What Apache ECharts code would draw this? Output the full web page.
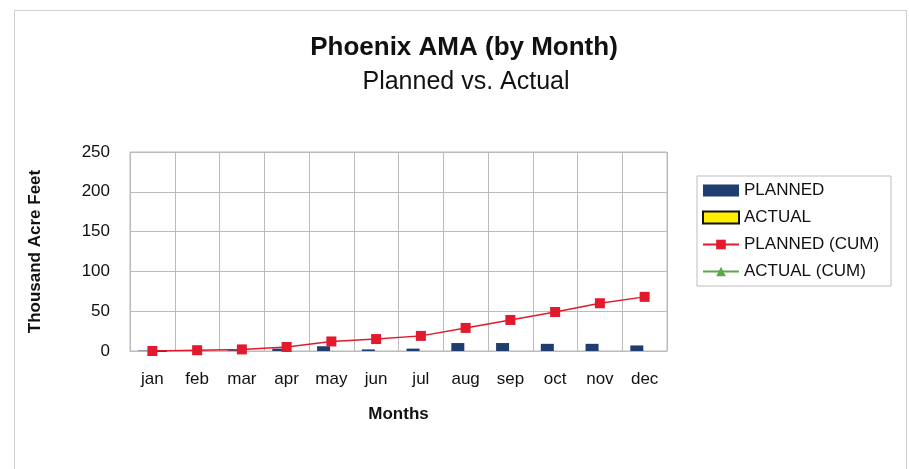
<!DOCTYPE html>
<html>
<head>
<meta charset="utf-8">
<script src="https://cdn.jsdelivr.net/npm/echarts@6/dist/echarts.min.js"></script>
<style>
  html, body { margin: 0; padding: 0; background: #fff; }
  #frame { position: absolute; left: 14px; top: 10px; width: 893px; height: 470px; border: 1px solid #cfcfcf; box-sizing: border-box; }
  #chart { width: 909px; height: 469px; }
</style>
</head>
<body>
<div id="frame"></div>
<div id="chart"></div>
<script>
// months on the x axis
var months = ['jan', 'feb', 'mar', 'apr', 'may', 'jun', 'jul', 'aug', 'sep', 'oct', 'nov', 'dec'];
// monthly planned deliveries (thousand acre feet)
var planned = [0.5, 1, 1, 3, 6, 2, 3, 10, 10, 9, 9, 7];
// monthly actual deliveries
var actual = [0, null, null, null, null, null, null, null, null, null, null, null];
// cumulative series
var plannedCum = [0, 1, 2, 5, 12, 15, 19, 29, 39, 49, 60, 68];
var actualCum = [0, null, null, null, null, null, null, null, null, null, null, null];

var chart = echarts.init(document.getElementById('chart'));
var font = 'Liberation Sans, Arial, sans-serif';

chart.setOption({
    animation: false,
    title: [{
        text: 'Phoenix AMA (by Month)',
        left: 459, top: 30, textAlign: 'center',
        textStyle: { fontFamily: font, fontSize: 26, fontWeight: 'bold', color: '#111' }
    }, {
        text: 'Planned vs. Actual',
        left: 461, top: 65, textAlign: 'center',
        textStyle: { fontFamily: font, fontSize: 25, fontWeight: 'normal', color: '#111' }
    }],
    legend: {
        orient: 'vertical',
        left: 697, top: 176,
        padding: [6, 12, 6, 5],
        itemGap: 10,
        itemWidth: 36, itemHeight: 12,
        borderColor: '#bdbdbd', borderWidth: 1,
        textStyle: { fontFamily: font, fontSize: 17, color: '#111' },
        data: [
            { name: 'PLANNED', icon: 'rect' },
            { name: 'ACTUAL', icon: 'rect' },
            'PLANNED (CUM)',
            'ACTUAL (CUM)'
        ]
    },
    grid: { left: 130, right: 242, top: 152, bottom: 118, show: true, borderColor: '#bbb', borderWidth: 1 },
    xAxis: {
        type: 'category',
        data: months,
        name: 'Months',
        nameLocation: 'middle',
        nameGap: 55,
        nameTextStyle: { fontFamily: font, fontSize: 17, fontWeight: 'bold', color: '#111' },
        axisLine: { lineStyle: { color: '#bbb' } },
        axisTick: { show: false },
        axisLabel: { fontFamily: font, fontSize: 17, color: '#111', margin: 20 },
        splitLine: { show: true, interval: 0, lineStyle: { color: '#bbb' } }
    },
    yAxis: {
        type: 'value',
        min: 0, max: 250, interval: 50,
        name: 'Thousand Acre Feet',
        nameLocation: 'middle',
        nameGap: 86,
        nameTextStyle: { fontFamily: font, fontSize: 17, fontWeight: 'bold', color: '#111' },
        axisLine: { show: false },
        axisTick: { show: false },
        axisLabel: { fontFamily: font, fontSize: 17, color: '#111', margin: 20 },
        splitLine: { lineStyle: { color: '#bbb' } }
    },
    series: [{
        name: 'PLANNED',
        type: 'bar',
        data: planned,
        barWidth: 13,
        barGap: '20%',
        itemStyle: { color: '#1f3d6e' }
    }, {
        name: 'ACTUAL',
        type: 'bar',
        data: actual,
        barWidth: 13,
        itemStyle: { color: '#ffee00', borderColor: '#111', borderWidth: 1 }
    }, {
        name: 'PLANNED (CUM)',
        type: 'line',
        data: plannedCum,
        symbol: 'rect',
        symbolSize: 10,
        itemStyle: { color: '#e3192d' },
        lineStyle: { color: '#e3192d', width: 1.5 }
    }, {
        name: 'ACTUAL (CUM)',
        type: 'line',
        data: actualCum,
        symbol: 'triangle',
        symbolSize: 10,
        itemStyle: { color: '#5aa84a' },
        lineStyle: { color: '#5aa84a', width: 1.5 },
        z: 1
    }]
});
</script>
</body>
</html>
